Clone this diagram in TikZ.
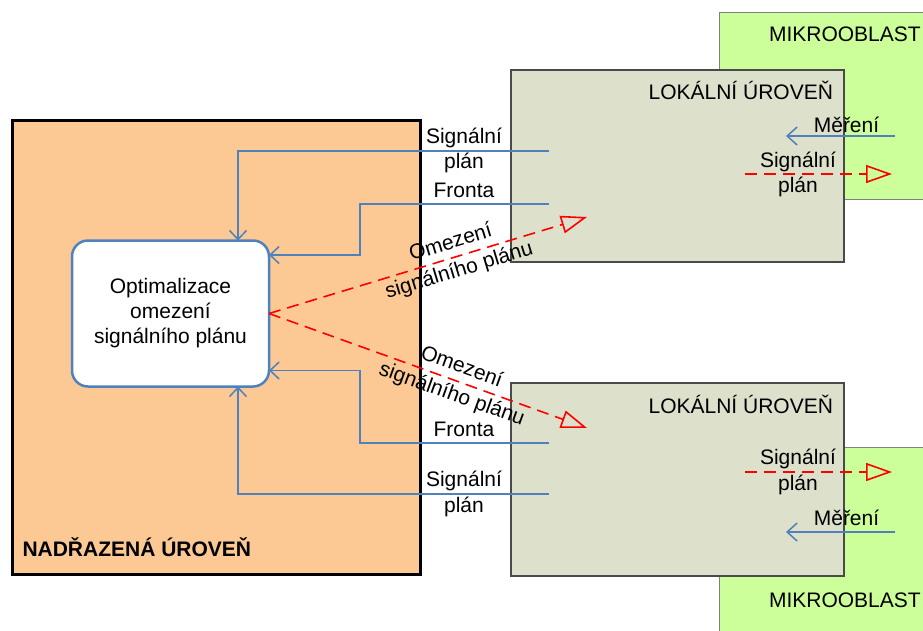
\documentclass[tikz,border=0pt]{standalone}
\usepackage{fontspec}
\setmainfont{Liberation Sans}
\usetikzlibrary{arrows.meta}
\definecolor{peach}{HTML}{FCC995}
\definecolor{localfill}{HTML}{DDE0CB}
\definecolor{microfill}{HTML}{CCFF99}
\definecolor{linkblue}{HTML}{4F81BD}
\definecolor{boxedge}{HTML}{4A4A4A}

\begin{document}
\begin{tikzpicture}[x=1pt,y=-1pt,
  every node/.style={font=\fontsize{21}{25}\selectfont, inner sep=0pt, outer sep=0pt},
  microbox/.style={draw=boxedge!70, line width=1pt, fill=microfill, anchor=north west},
  localbox/.style={draw=boxedge, line width=1.2pt, fill=localfill, anchor=north west},
  upperbox/.style={draw=black, line width=3pt, fill=peach, anchor=north west},
  optbox/.style={draw=linkblue, line width=2.5pt, fill=white, rounded corners=16pt,
    minimum width=197pt, minimum height=146pt, align=center},
  flow/.style={draw=linkblue, line width=1.5pt,
    -{Straight Barb[length=9pt,width=17pt]}},
  limit/.style={draw=red, line width=1.6pt, dash pattern=on 12pt off 7pt,
    -{Triangle[open, length=26pt, width=18pt]}},
  lbl/.style={anchor=base},
  slopelbl/.style={sloped, align=center}
]
\clip (0,0) rectangle (923,630);
\fill[white] (0,0) rectangle (923,630);

% micro-regions (behind the local levels)
\node[microbox, minimum width=215pt, minimum height=187pt] (microA) at (719,12) {};
\node[microbox, minimum width=215pt, minimum height=200pt] (microB) at (719,447) {};
\node[anchor=base west] (microAt) at (769,41) {MIKROOBLAST};
\node[anchor=base west] (microBt) at (769,607) {MIKROOBLAST};

% local levels
\node[localbox, minimum width=333pt, minimum height=192pt] (localA) at (511,70) {};
\node[localbox, minimum width=333pt, minimum height=193pt] (localB) at (511,383) {};
\node[anchor=base east] (localAt) at (833,99) {LOKÁLNÍ ÚROVEŇ};
\node[anchor=base east] (localBt) at (833,413) {LOKÁLNÍ ÚROVEŇ};

% upper level
\node[upperbox, minimum width=408pt, minimum height=454pt] (upper) at (12,120) {};
\node[anchor=base west, font=\fontsize{21}{25}\selectfont\bfseries] (uppert) at (22.5,556.5) {NADŘAZENÁ ÚROVEŇ};

\node[optbox] (opt) at (170.5,313.5) {Optimalizace\\omezení\\signálního plánu};

% connector end points inside the local levels
\coordinate (spA) at (549,151);
\coordinate (frA) at (549,204);
\coordinate (frB) at (549,443);
\coordinate (spB) at (549,494);
\coordinate (limA) at (587,217);
\coordinate (limB) at (587,428);

% feedback from the local levels
\draw[flow] (spA) -| ([xshift=67.5pt]opt.north);
\draw[flow] (frA) -- ++(-189,0) |- ([yshift=58.5pt]opt.east);
\draw[flow] (frB) -- ++(-189,0) |- ([yshift=-57pt]opt.east);
\draw[flow] (spB) -| ([xshift=67.5pt]opt.south);

\node[lbl] (spAa) at (464,143) {Signální};
\node[lbl] (spAb) at (464,168) {plán};
\node[lbl] (frAt) at (464,197.5) {Fronta};
\node[lbl] (frBt) at (464,436) {Fronta};
\node[lbl] (spBa) at (464,486.5) {Signální};
\node[lbl] (spBb) at (464,512.5) {plán};

% constraints sent to the local levels
\draw[limit] (opt.east) -- node[pos=0.585, slopelbl] (limAt) {Omezení\\[4pt]signálního plánu} (limA);
\draw[limit] (opt.east) -- node[pos=0.59, slopelbl] (limBt) {Omezení\\[4pt]signálního plánu} (limB);

% exchange between local levels and micro-regions
\coordinate (mAs) at (895,136);
\coordinate (mAe) at (786,136);
\coordinate (pAs) at (745,174);
\coordinate (pAe) at (892,174);
\coordinate (mBs) at (895,532);
\coordinate (mBe) at (786,532);
\coordinate (pBs) at (745,472);
\coordinate (pBe) at (892,472);

\draw[flow, -{Straight Barb[length=10pt,width=18pt]}] (mAs) -- (mAe);
\draw[flow, -{Straight Barb[length=10pt,width=18pt]}] (mBs) -- (mBe);
\draw[limit] (pAs) -- (pAe);
\draw[limit] (pBs) -- (pBe);

\node[lbl] (mAt) at (846.5,132.3) {Měření};
\node[lbl] (mBt) at (846.5,525.7) {Měření};
\node[lbl] (pAa) at (798,167.5) {Signální};
\node[lbl] (pAb) at (798,192.5) {plán};
\node[lbl] (pBa) at (798,464) {Signální};
\node[lbl] (pBb) at (798,490) {plán};
\end{tikzpicture}
\end{document}
